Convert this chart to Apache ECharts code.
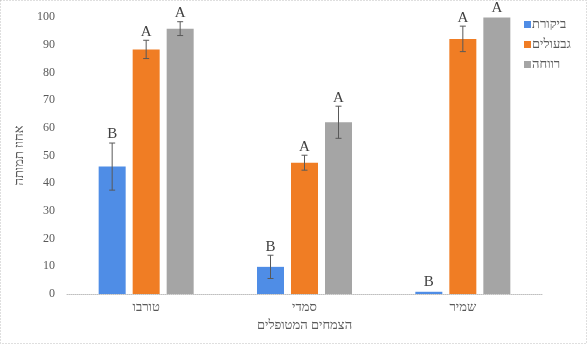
<!DOCTYPE html>
<html>
<head>
<meta charset="utf-8">
<script src="https://cdn.jsdelivr.net/npm/echarts@6/dist/echarts.min.js"></script>
<style>
  html, body { margin: 0; padding: 0; background: #fff; }
  #chart { width: 588px; height: 345px; }
</style>
</head>
<body>
<div id="chart"></div>
<script>
// Treated plants (categories)
const categories = ['טורבו', 'סמדי', 'שמיר'];

// Series names
const seriesNames = ['ביקורת', 'גבעולים', 'רווחה'];

// Mortality percentage per treatment
const controlValues = [46, 9.8, 0.8];
const stemValues = [88.3, 47.4, 92.1];
const revachaValues = [95.8, 62, 99.8];

// Standard errors
const controlErrors = [8.5, 4.2, 0.3];
const stemErrors = [3.3, 2.7, 4.6];
const revachaErrors = [2.5, 5.8, 0.2];

// Significance letters
const controlLetters = ['B', 'B', 'B'];
const stemLetters = ['A', 'A', 'A'];
const revachaLetters = ['A', 'A', 'A'];

// Y axis ticks
const yMin = 0, yMax = 100, yStep = 10;

const colors = ['#4f8de6', '#f07d24', '#a5a5a5'];
const BAR_W = 27;
const BAR_GAP = 7;
const SERIF = "'Liberation Serif', 'DejaVu Serif', serif";

const values = [controlValues, stemValues, revachaValues];
const errors = [controlErrors, stemErrors, revachaErrors];
const letters = [controlLetters, stemLetters, revachaLetters];

const chart = echarts.init(document.getElementById('chart'));

const barSeries = seriesNames.map((name, i) => ({
  name,
  type: 'bar',
  data: values[i],
  barWidth: BAR_W,
  barGap: (BAR_GAP / BAR_W * 100) + '%',
  itemStyle: { color: colors[i] },
  emphasis: { disabled: true }
}));

// Error bars and significance letters drawn on top of each bar
const errorSeries = seriesNames.map((name, i) => ({
  type: 'custom',
  name: name + '-err',
  z: 5,
  silent: true,
  data: values[i].map((v, j) => [j, v, errors[i][j]]),
  renderItem: function (params, api) {
    const cat = api.value(0);
    const v = api.value(1);
    const e = api.value(2);
    const letter = letters[i][params.dataIndex];
    const offset = (i - 1) * (BAR_W + BAR_GAP);
    const top = api.coord([cat, v + e]);
    const bot = api.coord([cat, Math.max(v - e, 0)]);
    const x = top[0] + offset;
    const cap = 3;
    const style = { stroke: '#595959', lineWidth: 1 };
    const children = [];
    if (e > 0.5) {
      children.push(
        { type: 'line', shape: { x1: x, y1: top[1], x2: x, y2: bot[1] }, style },
        { type: 'line', shape: { x1: x - cap, y1: top[1], x2: x + cap, y2: top[1] }, style },
        { type: 'line', shape: { x1: x - cap, y1: bot[1], x2: x + cap, y2: bot[1] }, style }
      );
    }
    children.push({
      type: 'text',
      style: {
        text: letter,
        x: x,
        y: top[1] - 1,
        align: 'center',
        verticalAlign: 'bottom',
        fill: '#404040',
        font: '15px ' + SERIF
      }
    });
    return { type: 'group', children };
  }
}));

chart.setOption({
  animation: false,
  backgroundColor: '#fff',
  grid: { left: 67, right: 46, top: 17, bottom: 51 },
  legend: {
    data: seriesNames,
    orient: 'vertical',
    left: 519,
    top: 13,
    icon: 'rect',
    itemWidth: 7,
    itemHeight: 7,
    itemGap: 7,
    textStyle: { fontFamily: SERIF, fontSize: 13, color: '#595959', padding: [0, 0, 0, -4] }
  },
  xAxis: {
    type: 'category',
    data: categories,
    name: 'הצמחים המטופלים',
    nameLocation: 'middle',
    nameGap: 25,
    nameTextStyle: { fontFamily: SERIF, fontSize: 13, color: '#595959' },
    axisLine: { lineStyle: { color: '#bfbfbf', type: 'dotted' } },
    axisTick: { show: false },
    axisLabel: { fontFamily: SERIF, fontSize: 13, color: '#595959', margin: 7 }
  },
  yAxis: {
    type: 'value',
    min: yMin,
    max: yMax,
    interval: yStep,
    name: 'אחוז תמותה',
    nameLocation: 'middle',
    nameGap: 37,
    nameTextStyle: { fontFamily: SERIF, fontSize: 13, color: '#595959' },
    axisLine: { show: false },
    axisTick: { show: false },
    splitLine: { show: false },
    axisLabel: { fontFamily: SERIF, fontSize: 12, color: '#595959', margin: 12 }
  },
  graphic: [{
    type: 'rect',
    shape: { x: 0.5, y: 0.5, width: 586, height: 343 },
    style: { fill: 'none', stroke: '#bfbfbf', lineWidth: 1, lineDash: [1, 2] },
    silent: true
  }],
  series: barSeries.concat(errorSeries)
});
</script>
</body>
</html>
